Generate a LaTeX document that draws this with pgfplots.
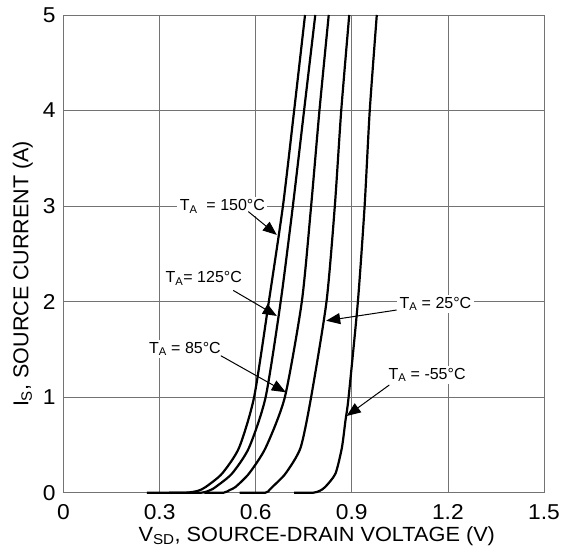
\documentclass[border=0pt]{standalone}
\usepackage{fontspec}
\setmainfont{Liberation Sans}[FakeStretch=1.06]
\newfontfamily\plainsans{Liberation Sans}
\usepackage{pgfplots}
\pgfplotsset{compat=1.18}
\usetikzlibrary{arrows.meta}
\begin{document}
\fontsize{20.5}{24}\selectfont
\begin{tikzpicture}
\begin{axis}[
  scale only axis, width=480.5pt, height=477.7pt,
  xmin=0, xmax=1.5, ymin=0, ymax=5,
  xtick={0,0.3,0.6,0.9,1.2,1.5},
  xticklabels={0,0.3,0.6,0.9,1.2,1.5},
  ytick={0,1,2,3,4,5},
  grid=major,
  major grid style={black!55, line width=0.8pt},
  axis line style={black!55, line width=0.8pt},
  major tick length=0pt,
  tick label style={font=\fontsize{21.5}{25}\selectfont},
  xticklabel style={yshift=-5pt},
  yticklabel style={xshift=-1pt},
  /pgf/number format/assume math mode=true,
  xlabel={V\textsubscript{SD}, SOURCE-DRAIN VOLTAGE (V)},
  ylabel={I\textsubscript{S}, SOURCE CURRENT (A)},
  xlabel style={font=\fontsize{20.5}{24}\selectfont, at={(axis description cs:0.5,0)}, anchor=center, yshift=-43.7pt, xshift=13pt},
  ylabel style={font=\plainsans\fontsize{21.5}{25}\selectfont, at={(axis description cs:0,0.458)}, anchor=center, yshift=40.6pt},
  clip=false,
]
% 150 C
\addplot[black, line width=2.2pt, smooth, tension=0.4] coordinates {
(0.26,0)(0.38,0)(0.42,0.02)(0.444,0.06)(0.495,0.20)(0.548,0.47)(0.595,1.0)(0.641,2.0)(0.685,3.0)(0.720,4.0)(0.754,5.0)};
% 125 C
\addplot[black, line width=2.2pt, smooth, tension=0.4] coordinates {
(0.33,0)(0.43,0)(0.46,0.03)(0.475,0.06)(0.526,0.20)(0.579,0.47)(0.631,1.0)(0.678,2.0)(0.716,3.0)(0.751,4.0)(0.786,5.0)};
% 85 C
\addplot[black, line width=2.2pt, smooth, tension=0.4] coordinates {
(0.44,0)(0.50,0)(0.52,0.03)(0.537,0.06)(0.579,0.20)(0.631,0.47)(0.691,1.0)(0.744,2.0)(0.773,3.0)(0.799,4.0)(0.828,5.0)};
% 25 C
\addplot[black, line width=2.2pt, smooth, tension=0.4] coordinates {
(0.55,0)(0.63,0)(0.643,0.03)(0.652,0.06)(0.693,0.20)(0.740,0.47)(0.773,1.0)(0.821,2.0)(0.847,3.0)(0.867,4.0)(0.892,5.0)};
% -55 C
\addplot[black, line width=2.2pt, smooth, tension=0.4] coordinates {
(0.72,0)(0.78,0)(0.80,0.02)(0.817,0.06)(0.849,0.20)(0.869,0.47)(0.880,0.75)(0.890,1.0)(0.919,2.0)(0.940,3.0)(0.956,4.0)(0.978,5.0)};

\tikzset{lbl/.style={fill=white, inner sep=2.5pt, anchor=base, font=\plainsans\fontsize{16}{19}\selectfont},
         arr/.style={-{Triangle[length=14pt,width=11pt]}, line width=1pt, black}}
\node[lbl] at (0.496,2.952) {T\textsubscript{A}\ \ = 150°C};
\draw[arr] (0.577,2.942) -- (0.666,2.698);
\node[lbl] at (0.438,2.198) {T\textsubscript{A}= 125°C};
\draw[arr] (0.530,2.117) -- (0.666,1.850);
\node[lbl] at (0.379,1.459) {T\textsubscript{A} = 85°C};
\draw[arr] (0.491,1.434) -- (0.694,1.051);
\node[lbl] at (1.161,1.930) {T\textsubscript{A} = 25°C};
\draw[arr] (1.040,1.912) -- (0.820,1.800);
\node[lbl] at (1.135,1.187) {T\textsubscript{A} = -55°C};
\draw[arr] (1.017,1.127) -- (0.884,0.803);
\end{axis}
\pgfresetboundingbox
\path ([shift={(-63.5pt,-60.3pt)}]current axis.south west) rectangle ([shift={(17pt,15pt)}]current axis.north east);
\end{tikzpicture}
\end{document}
